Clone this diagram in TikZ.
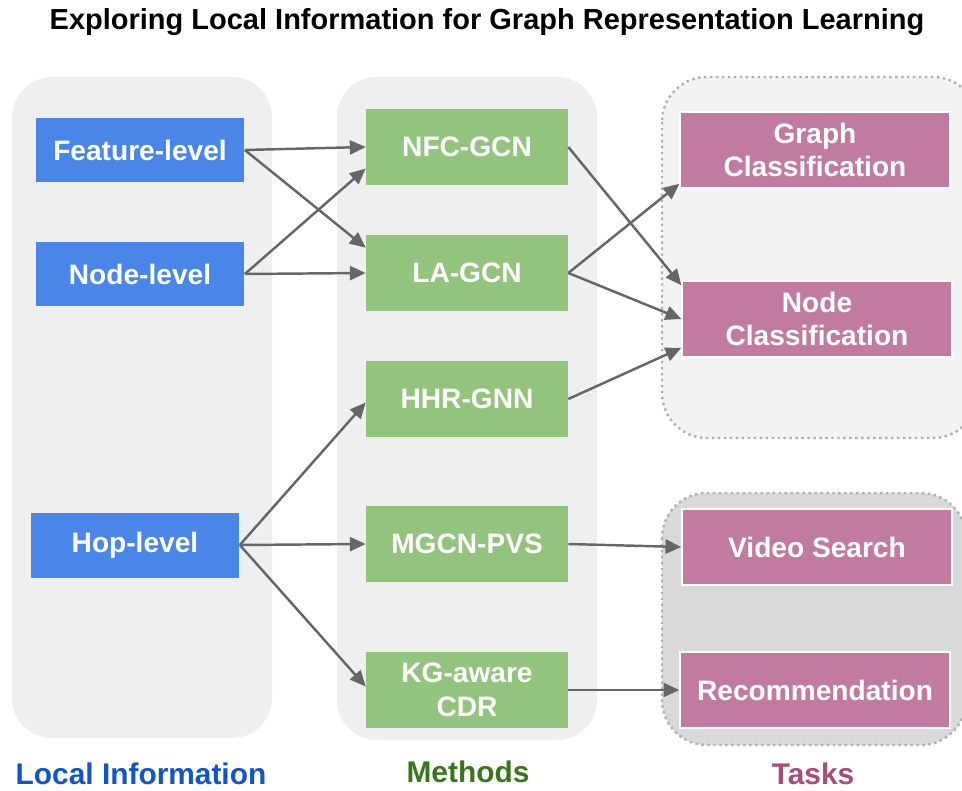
\documentclass[tikz,border=0pt]{standalone}
\usepackage{fontspec}
\setmainfont{Liberation Sans}
\usepackage{tikz}
\usetikzlibrary{arrows.meta}

\definecolor{infoblue}{HTML}{4A86E8}
\definecolor{methodgreen}{HTML}{93C47D}
\definecolor{taskpink}{HTML}{C27BA0}
\definecolor{panelgray}{HTML}{EFEFEF}
\definecolor{tasklight}{HTML}{F3F3F3}
\definecolor{taskdark}{HTML}{D9D9D9}
\definecolor{dotgray}{HTML}{B0B0B0}
\definecolor{arrowgray}{HTML}{666666}
\definecolor{localblue}{HTML}{1155CC}
\definecolor{methodsgreen}{HTML}{38761D}
\definecolor{tasksplum}{HTML}{A64D79}

\begin{document}
\begin{tikzpicture}[x=0.02cm, y=-0.02cm,
        every node/.style={font=\bfseries\fontsize{16}{19}\selectfont, inner sep=0pt},
        info/.style={fill=infoblue, text=white, minimum width=4.18cm, minimum height=1.3cm},
        method/.style={fill=methodgreen, text=white, align=center, minimum width=4.04cm, minimum height=1.52cm},
        task/.style={fill=taskpink, draw=white, line width=0.8pt, text=white, align=center, minimum width=5.4cm, minimum height=1.52cm},
        caption/.style={font=\bfseries\fontsize{17}{20}\selectfont},
        arr/.style={draw=arrowgray, line width=1.4pt, -{Triangle[length=9pt,width=8pt]}}]
        \useasboundingbox (0,0) rectangle (962,790);

        % background panels
        \fill[panelgray, rounded corners=0.8cm] (12,77) rectangle (272,738);
        \fill[panelgray, rounded corners=0.8cm] (337,77) rectangle (597,740);
        \draw[dotgray, fill=tasklight, dotted, line width=1.4pt, rounded corners=0.9cm] (662,77) rectangle (978,438);
        \draw[dotgray, fill=taskdark, dotted, line width=1.4pt, rounded corners=0.9cm] (662,493) rectangle (966,745);

        \node (title) [font=\bfseries\fontsize{16.5}{19}\selectfont] at (487,22) {Exploring Local Information for Graph Representation Learning};

        \node (feat)  [info]   at (140,150) {Feature-level};
        \node (nodel) [info]   at (140,274) {Node-level};
        \node (hop)   [info]   at (135,545) {Hop-level};

        \node (nfc)   [method] at (467,147) {NFC-GCN};
        \node (lagcn) [method] at (467,273) {LA-GCN};
        \node (hhr)   [method] at (467,399) {HHR-GNN};
        \node (mgcn)  [method] at (467,544) {MGCN-PVS};
        \node (kg)    [method] at (467,690) {KG-aware\\CDR};

        \node (gcls)  [task]   at (815,150) {Graph\\Classification};
        \node (ncls)  [task]   at (817,319) {Node\\Classification};
        \node (video) [task]   at (817,547) {Video Search};
        \node (rec)   [task]   at (815,690) {Recommendation};

        \node (local)   [caption, text=localblue]    at (141,774) {Local Information};
        \node (methods) [caption, text=methodsgreen] at (468,772) {Methods};
        \node (tasks)   [caption, text=tasksplum]    at (813,774) {Tasks};

        \draw[arr] (feat.east) -- (nfc.west);
        \draw[arr] (feat.east) -- (lagcn.166);
        \draw[arr] (nodel.east) -- (nfc.192);
        \draw[arr] (nodel.east) -- (lagcn.west);
        \draw[arr] (hop.east) -- (hhr.182);
        \draw[arr] (hop.east) -- (mgcn.west);
        \draw[arr] (hop.east) -- (kg.178);

        \draw[arr] (nfc.east) -- (ncls.166);
        \draw[arr] (lagcn.east) -- (gcls.194);
        \draw[arr] (lagcn.east) -- (ncls.west);
        \draw[arr] (hhr.east) -- (ncls.192);
        \draw[arr] (mgcn.east) -- (video.west);
        \draw[arr] (kg.east) -- (rec.west);
    \end{tikzpicture}
\end{document}
